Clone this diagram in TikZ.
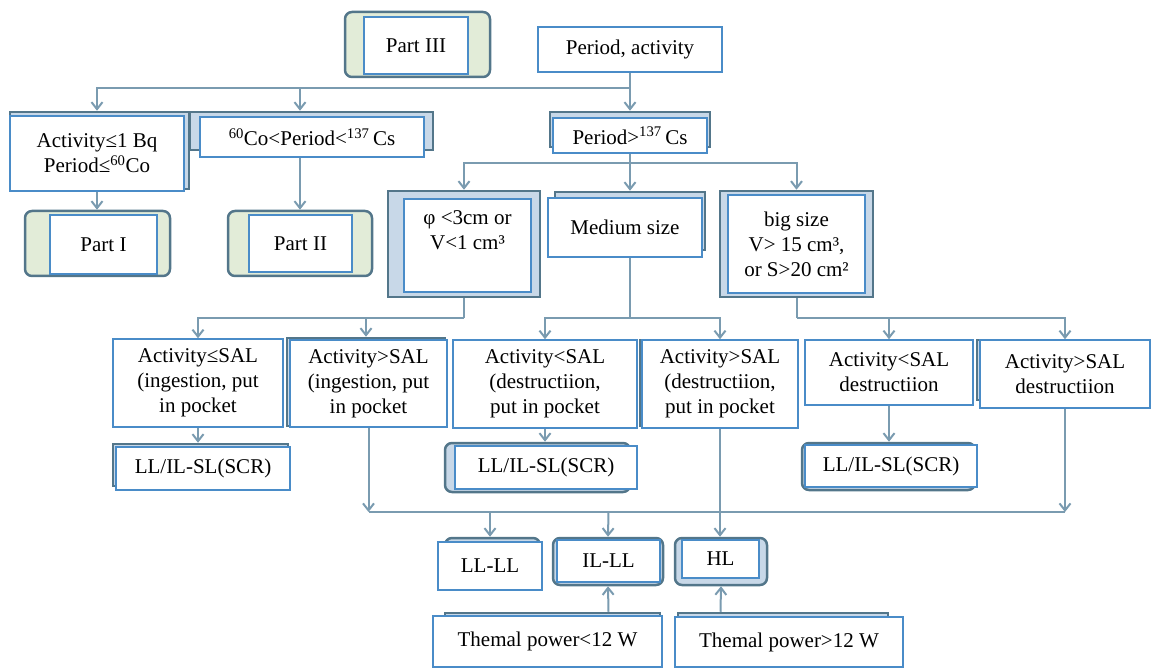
\documentclass[tikz,border=0pt]{standalone}
\usepackage{fontspec}
\setmainfont{Liberation Serif}
\usetikzlibrary{arrows.meta}

\definecolor{boxblue}{HTML}{4A8CC8}
\definecolor{framegray}{HTML}{53768A}
\definecolor{linegray}{HTML}{7A9BB0}
\definecolor{partgreen}{HTML}{E2ECD8}
\definecolor{framefill}{HTML}{C8D8E8}

\tikzset{
  box/.style={draw=boxblue, line width=1.5pt, fill=white, align=center, inner sep=2pt},
  frame/.style={draw=framegray, line width=2.5pt, fill=framefill},
  rframe/.style={frame, rounded corners=7pt},
  partframe/.style={rframe, fill=partgreen},
  wh/.style 2 args={minimum width=#1pt, minimum height=#2pt},
  conn/.style={draw=linegray, line width=2pt},
}

\begin{document}
\begin{tikzpicture}[x=1pt, y=-1pt, >={Straight Barb[length=7pt,width=11pt]}, font=\fontsize{21}{25}\selectfont]

\useasboundingbox (0,0) rectangle (1157,668);

% ── TOP ──────────────────────────────────────────────
\node[partframe, wh={145}{65}] (p3F) at (417.5,44.5) {};
\node[box, wh={104}{57}] (p3) at (416,45.5) {Part III};
\node[box, wh={184}{45}] (pa) at (630,49.5) {Period, activity};

\node[frame, wh={179}{77}] (act1F) at (99.5,150.5) {};
\node[box, wh={174}{75}] (act1) at (97,153.5) {Activity≤1 Bq\\Period≤\textsuperscript{60}Co};
\node[frame, wh={243}{38}] (coF) at (311.5,131) {};
\node[box, wh={224}{40}] (co) at (312,137) {\textsuperscript{60}Co<Period<\textsuperscript{137}\,Cs};
\node[frame, wh={160}{35}] (p137F) at (630,129.5) {};
\node[box, wh={154}{35}] (p137) at (630,135.5) {Period>\textsuperscript{137}\,Cs};

% Parts
\node[partframe, wh={145}{65}] (p1F) at (97.5,243.5) {};
\node[box, wh={107}{59}] (p1) at (103.5,244.5) {Part I};
\node[partframe, wh={144}{65}] (p2F) at (300,243.5) {};
\node[box, wh={103}{57}] (p2) at (300.5,243.5) {Part II};

% Size classes
\node[frame, wh={152}{106}] (phiF) at (464,244) {};
\node[box, wh={127}{93}, text depth=30pt] (phi) at (467.5,245.5) {φ <3cm or\\V<1 cm³};
\node[frame, wh={150}{58}] (medF) at (630,221) {};
\node[box, wh={154}{59}] (med) at (625,227.5) {Medium size};
\node[frame, wh={153}{106}] (bigF) at (796.5,244) {};
\node[box, wh={137}{98}] (big) at (796.5,244) {big size\\V> 15 cm³,\\or S>20 cm²};

% ── ACTIVITY vs SAL ──────────────────────────────────
\node[box, wh={170}{88}] (sal1) at (198,383) {Activity≤SAL\\(ingestion, put\\in pocket};
\node[frame, wh={158}{88}] (sal2F) at (366,382) {};
\node[box, wh={157}{87}] (sal2) at (368.5,383.5) {Activity>SAL\\(ingestion, put\\in pocket};
\node[box, wh={184}{88}] (sal3) at (545,384) {Activity<SAL\\(destructiion,\\put in pocket};
\node[frame, wh={152}{86}] (sal4F) at (716,383) {};
\node[box, wh={156}{88}] (sal4) at (720,384) {Activity>SAL\\(destructiion,\\put in pocket};
\node[box, wh={168}{65}] (sal5) at (889,372.5) {Activity<SAL\\destructiion};
\node[frame, wh={163}{60}] (sal6F) at (1058.5,370) {};
\node[box, wh={170}{68}] (sal6) at (1065,374) {Activity>SAL\\destructiion};

% SCR boxes
\node[frame, wh={175}{42}] (scr1F) at (200.5,465) {};
\node[box, wh={174}{43}] (scr1) at (203,468.5) {LL/IL-SL(SCR)};
\node[rframe, wh={185}{49}] (scr2F) at (537.5,467.5) {};
\node[box, wh={182}{43}] (scr2) at (546,467.5) {LL/IL-SL(SCR)};
\node[rframe, wh={173}{47}] (scr3F) at (888.5,466.5) {};
\node[box, wh={172}{42}] (scr3) at (891,466) {LL/IL-SL(SCR)};

% ── LEVELS ───────────────────────────────────────────
\node[rframe, wh={95}{48}] (llF) at (492.5,562) {};
\node[box, wh={104}{48}] (ll) at (490,566) {LL-LL};
\node[rframe, wh={110}{47}] (ilF) at (608,561.5) {};
\node[box, wh={103}{42}] (il) at (608.5,561) {IL-LL};
\node[rframe, wh={92}{47}] (hlF) at (721,561.5) {};
\node[box, wh={77}{38}] (hl) at (720.5,559) {HL};
\node[frame, wh={215}{52}] (th1F) at (552.5,639) {};
\node[box, wh={229}{51}] (th1) at (547.5,641.5) {Themal power<12 W};
\node[frame, wh={210}{52}] (th2F) at (783,639) {};
\node[box, wh={228}{50}] (th2) at (789,642) {Themal power>12 W};

% ── CONNECTORS ───────────────────────────────────────
\coordinate (j1) at (630,88);
\draw[conn, ->] (pa.south) -- (p137F.north);
\draw[conn, ->] (j1) -| (act1.north |- act1F.north);
\draw[conn, ->] (j1 -| p2F) -- (coF.north -| p2F);
\draw[conn, ->] (act1.south) -- (act1.south |- p1F.north);
\draw[conn, ->] (co.south -| p2F) -- (p2F.north);

\coordinate (j2) at (630,163);
\draw[conn, ->] (p137.south) -- (medF.north);
\draw[conn, ->] (j2) -| (phiF.north);
\draw[conn, ->] (j2) -| (bigF.north);

\coordinate (j3) at (464,318);
\draw[conn] (phiF.south) -- (j3);
\draw[conn, ->] (j3) -| (sal1.north);
\draw[conn, ->] (j3 -| sal2F) -- (sal2F.north);
\coordinate (j4) at (630,318);
\draw[conn] (j4 |- med.south) -- (j4);
\draw[conn, ->] (j4) -| (sal3.north);
\draw[conn, ->] (j4) -| (sal4.north);
\coordinate (j5) at (796.5,318);
\draw[conn] (bigF.south) -- (j5);
\draw[conn, ->] (j5) -| (sal6.north);
\draw[conn, ->] (j5 -| sal5) -- (sal5.north);

\draw[conn, ->] (sal1.south) -- (sal1.south |- scr1F.north);
\draw[conn, ->] (sal3.south) -- (sal3.south |- scr2F.north);
\draw[conn, ->] (sal5.south) -- (sal5.south |- scr3F.north);

% Merge line
\coordinate (j6) at (368.5,512);
\coordinate (j7) at (1065,512);
\draw[conn] (j6) -- (j7);
\draw[conn, ->] (sal2.south) -- (j6);
\draw[conn, ->] (sal6.south) -- (j7);
\draw[conn, ->] (j6 -| ll) -- (ll.north |- llF.north);
\draw[conn, ->] (j6 -| il) -- (ilF.north);
\draw[conn, ->] (sal4.south) -- (sal4.south |- hlF.north);
\draw[conn, ->] (th1F.north -| il) -- (ilF.south);
\draw[conn, ->] (th2F.north -| hl) -- (hlF.south);

\end{tikzpicture}
\end{document}
